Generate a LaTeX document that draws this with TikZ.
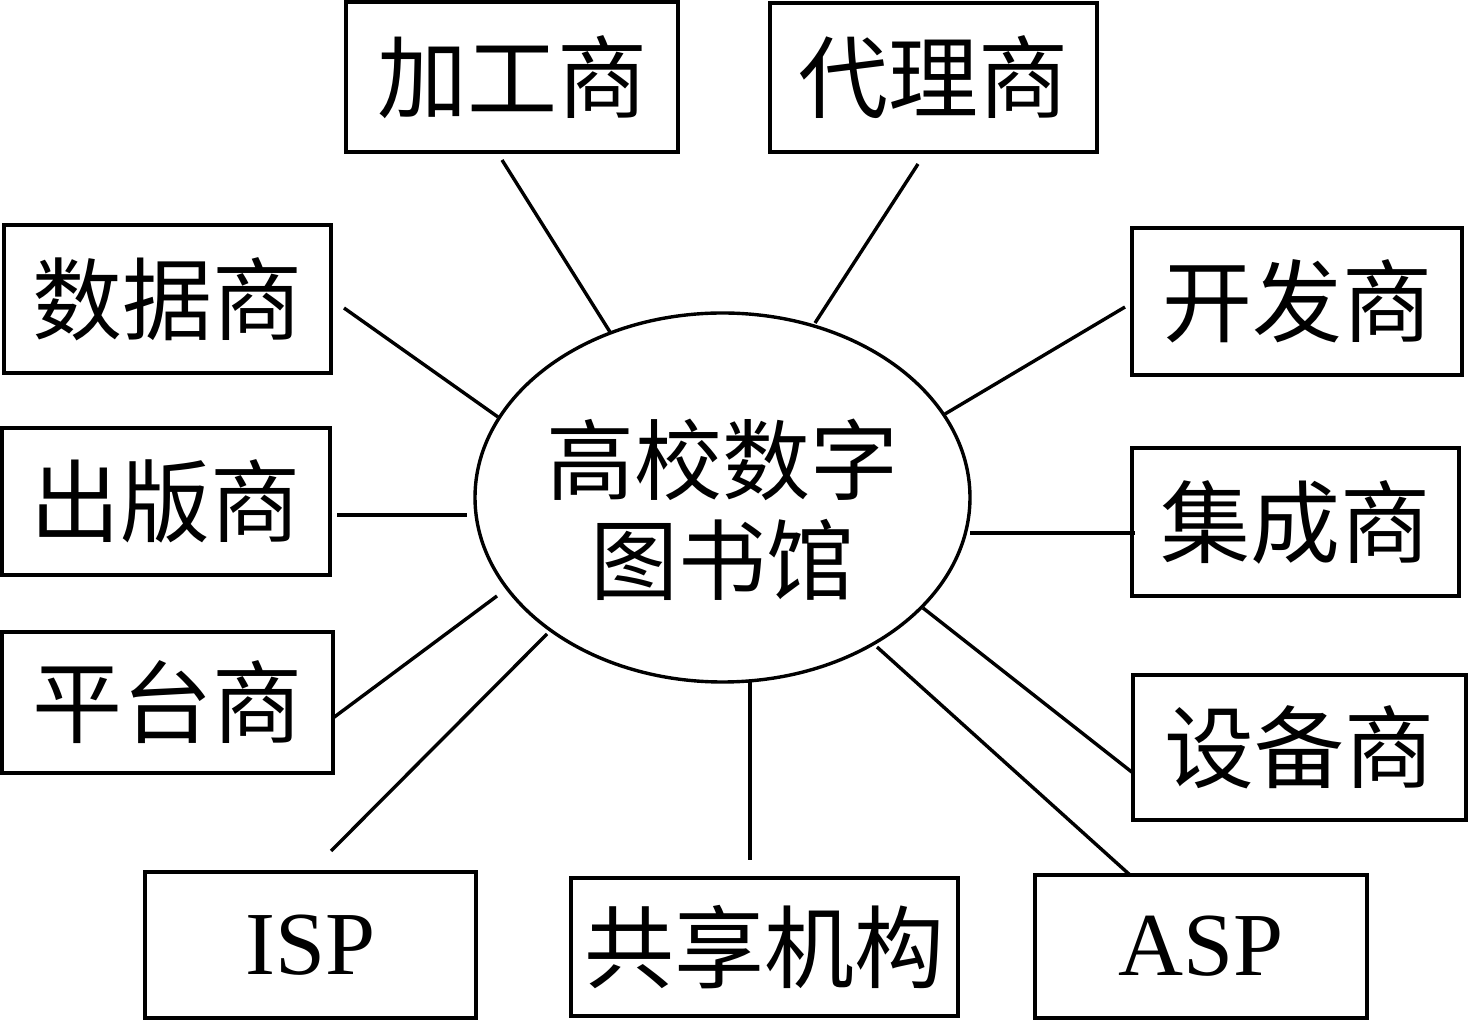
\documentclass[tikz,border=0pt]{standalone}
\usepackage{fontspec}
\setmainfont{Liberation Serif}
\newfontfamily\cjk{Noto Sans CJK SC}
\usetikzlibrary{shapes.geometric}
\tikzset{
  box/.style    ={rectangle, draw=black, line width=1.7pt, inner sep=0pt,
                  align=center, font=\cjk\fontsize{45}{50}\selectfont},
  latin/.style  ={box, font=\fontsize{45}{50}\selectfont},
  hub/.style    ={ellipse, draw=black, line width=1.7pt, inner sep=0pt,
                  minimum width=247.5pt, minimum height=184.5pt},
  hubtext/.style={align=center, yshift=-6pt, font=\cjk\fontsize{44}{50}\selectfont},
  link/.style   ={line width=1.7pt},
}
\begin{document}
\begin{tikzpicture}[x=0.5pt,y=-0.5pt]
  \useasboundingbox (0,0) rectangle (1468,1020);

  \node[hub, label={[hubtext]center:高校数字\\图书馆}] (lib) at (722.5,497.5) {};

  \node[box, minimum width=166pt, minimum height=75pt] (jg) at (512,77) {加工商};
  \node[box, minimum width=163.5pt, minimum height=74.5pt] (dl) at (933.5,77.5) {代理商};
  \node[box, minimum width=163.5pt, minimum height=74pt] (sj) at (167.5,299) {数据商};
  \node[box, minimum width=165pt, minimum height=73.5pt] (kf) at (1297,301.5) {开发商};
  \node[box, minimum width=164pt, minimum height=73.5pt] (cb) at (166,501.5) {出版商};
  \node[box, minimum width=163.5pt, minimum height=74pt] (jc) at (1295.5,522) {集成商};
  \node[box, minimum width=165.5pt, minimum height=70.5pt] (pt) at (167.5,702.5) {平台商};
  \node[box, minimum width=166.5pt, minimum height=72.5pt] (sb) at (1299.5,747.5) {设备商};
  \node[latin, minimum width=165.5pt, minimum height=73pt] (isp) at (310.5,945) {ISP};
  \node[box, minimum width=193.5pt, minimum height=69pt] (gx) at (764.5,947) {共享机构};
  \node[latin, minimum width=166pt, minimum height=71.5pt] (asp) at (1201,946.5) {ASP};

  % connector ends
  \coordinate (jg-a) at (502,160);   \coordinate (jg-b) at (610,332);
  \coordinate (dl-a) at (918,164);   \coordinate (dl-b) at (815,323);
  \coordinate (sj-a) at (344,308);   \coordinate (sj-b) at (498,417);
  \coordinate (kf-a) at (1125,307);  \coordinate (kf-b) at (945,414);
  \coordinate (cb-a) at (337,515);   \coordinate (cb-b) at (467,515);
  \coordinate (jc-a) at (1135,533);  \coordinate (jc-b) at (970,533);
  \coordinate (pt-a) at (333,718);   \coordinate (pt-b) at (497,596);
  \coordinate (isp-a) at (331,851);  \coordinate (isp-b) at (547,634);
  \coordinate (gx-a) at (750,860);   \coordinate (gx-b) at (750,682);
  \coordinate (sb-a) at (1133,773);  \coordinate (sb-b) at (923,608);
  \coordinate (asp-a) at (1130,875); \coordinate (asp-b) at (877,647);

  \foreach \n in {jg,dl,sj,kf,cb,jc,pt,isp,gx,sb,asp}
    \draw[link] (\n-a) -- (\n-b);
\end{tikzpicture}
\end{document}
